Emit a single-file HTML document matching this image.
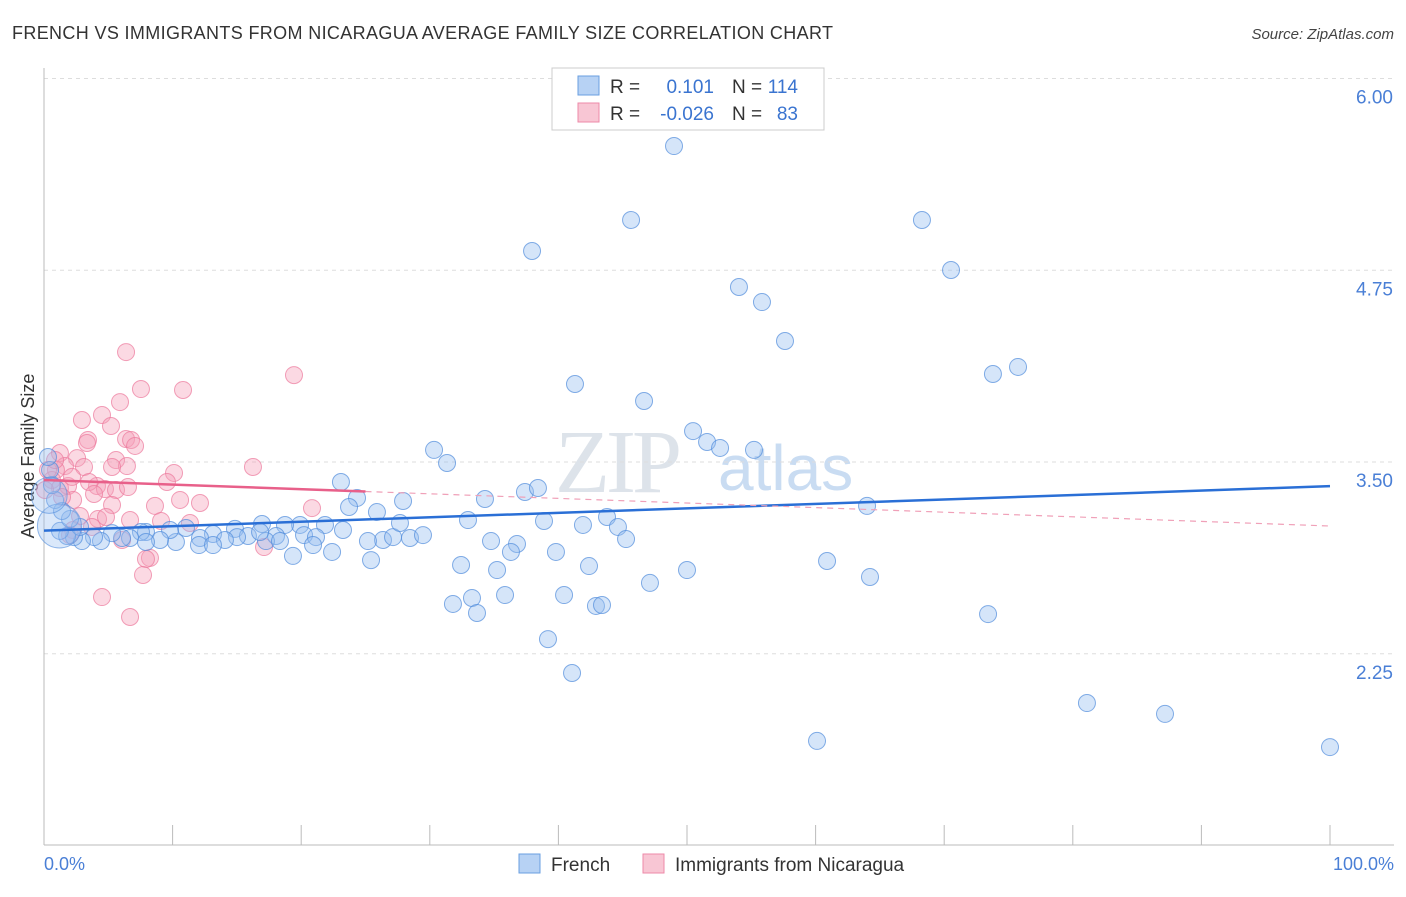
<!DOCTYPE html>
<html><head><meta charset="utf-8"><style>
body{margin:0;background:#fff;font-family:"Liberation Sans",sans-serif}
</style></head><body>
<svg id="chart" width="1406" height="892" xmlns="http://www.w3.org/2000/svg" font-family="Liberation Sans, sans-serif">
<text x="12" y="39" font-size="18" fill="#333" textLength="821">FRENCH VS IMMIGRANTS FROM NICARAGUA AVERAGE FAMILY SIZE CORRELATION CHART</text>
<text x="1394" y="39" font-size="15" fill="#444" text-anchor="end" font-style="italic">Source: ZipAtlas.com</text>
<text x="555" y="492" font-size="90" fill="#dde3ea" font-family="Liberation Serif, serif" letter-spacing="-4">ZIP</text>
<text x="718" y="490" font-size="64" fill="#c9dcf2">atlas</text>
<g id="grid"></g>
<line x1="44" y1="68" x2="44" y2="845" stroke="#bbb"/>
<line x1="44" y1="845" x2="1394" y2="845" stroke="#bbb"/>
<text transform="translate(34,456) rotate(-90)" font-size="18" fill="#333" text-anchor="middle">Average Family Size</text>
<text x="44" y="870" font-size="18" fill="#4a7fd6">0.0%</text>
<text x="1394" y="870" font-size="18" fill="#4a7fd6" text-anchor="end">100.0%</text>
<g id="pts"></g>
<g id="lines"></g>
<g>
<rect x="552" y="68" width="272" height="62" fill="#fff" stroke="#ccc"/>
<rect x="578" y="76" width="21" height="19" fill="#b7d2f4" stroke="#6a9fe0"/>
<rect x="578" y="103" width="21" height="19" fill="#f8c6d4" stroke="#ee8aa8"/>
<text x="610" y="93" font-size="19" fill="#333">R =</text><text x="714" y="93" font-size="19" fill="#3a74d0" text-anchor="end">0.101</text>
<text x="732" y="93" font-size="19" fill="#333">N =</text><text x="798" y="93" font-size="19" fill="#3a74d0" text-anchor="end">114</text>
<text x="610" y="120" font-size="19" fill="#333">R =</text><text x="714" y="120" font-size="19" fill="#3a74d0" text-anchor="end">-0.026</text>
<text x="732" y="120" font-size="19" fill="#333">N =</text><text x="798" y="120" font-size="19" fill="#3a74d0" text-anchor="end">83</text>
</g>
<rect x="519" y="854" width="21" height="19" fill="#b7d2f4" stroke="#6a9fe0"/>
<text x="551" y="871" font-size="19" fill="#333">French</text>
<rect x="643" y="854" width="21" height="19" fill="#f8c6d4" stroke="#ee8aa8"/>
<text x="675" y="871" font-size="19" fill="#333">Immigrants from Nicaragua</text>
</svg>
<script>
const yTicks=[2.25,3.5,4.75,6.0];
const yTickLabels=["2.25","3.50","4.75","6.00"];
const xTicks=[0,10,20,30,40,50,60,70,80,90,100];
const bluePx=[[674,146],[631,220],[922,220],[532,251],[951,270],[739,287],[762,302],[785,341],[1018,367],[993,374],[575,384],[644,401],[434,450],[693,431],[707,442],[720,448],[754,450],[447,463],[341,482],[525,492],[538,488],[485,499],[403,501],[357,498],[349,507],[377,512],[468,520],[544,521],[607,517],[583,525],[618,527],[867,506],[626,539],[491,541],[517,544],[511,552],[556,552],[410,538],[383,540],[393,537],[368,541],[325,525],[343,530],[300,525],[304,535],[285,525],[262,524],[276,536],[266,541],[235,529],[248,536],[237,537],[213,534],[225,540],[200,538],[186,528],[176,542],[170,530],[160,540],[146,532],[141,532],[130,538],[122,538],[112,533],[101,541],[94,537],[82,541],[74,537],[67,536],[60,531],[80,527],[70,519],[62,511],[55,500],[52,485],[50,470],[48,457],[260,532],[316,537],[332,552],[313,545],[293,556],[371,560],[461,565],[497,570],[589,566],[687,570],[827,561],[870,577],[650,583],[453,604],[472,598],[477,613],[505,595],[564,595],[596,606],[602,605],[548,639],[988,614],[572,673],[1087,703],[1165,714],[817,741],[1330,747],[423,535],[400,523],[280,541],[199,545],[213,545],[146,542]];
const pinkPx=[[126,352],[294,375],[141,389],[183,390],[120,402],[102,415],[82,420],[111,426],[88,440],[126,439],[131,440],[135,446],[87,443],[60,453],[77,458],[116,460],[253,467],[174,473],[127,466],[112,467],[84,467],[65,466],[56,470],[52,480],[60,488],[68,486],[72,477],[97,486],[89,482],[105,489],[116,490],[128,487],[167,482],[180,500],[200,503],[155,506],[112,505],[94,494],[73,500],[62,497],[80,516],[98,519],[106,517],[161,521],[190,523],[130,520],[92,527],[73,530],[70,535],[122,540],[264,547],[150,558],[146,559],[143,575],[102,597],[130,617],[312,508],[48,470],[55,460],[45,490]];
const blueX=bluePx.map(p=>+((p[0]-44)/12.86).toFixed(2));
const blueY=bluePx.map(p=>+(3.5-(p[1]-480)/153.4).toFixed(3));
const pinkX=pinkPx.map(p=>+((p[0]-44)/12.86).toFixed(2));
const pinkY=pinkPx.map(p=>+(3.5-(p[1]-480)/153.4).toFixed(3));
const blueTrend=[3.17,3.46];
const pinkTrend=[3.5,3.2];
const sx=v=>44+v*12.86;
const sy=v=>480-(v-3.5)*153.4;
const NS="http://www.w3.org/2000/svg";
function mk(t,a,parent){const e=document.createElementNS(NS,t);for(const k in a)e.setAttribute(k,a[k]);parent.appendChild(e);return e;}
const grid=document.getElementById('grid');
yTicks.forEach((t,i)=>{
  const l=mk('line',{x1:44,x2:1394,y1:sy(t)-18,y2:sy(t)-18,stroke:'#ddd','stroke-dasharray':'4,4'},grid);
  
  
  const tx=mk('text',{x:1393,y:sy(t)+7,'font-size':19,fill:'#4a7fd6','text-anchor':'end'},grid);
  tx.textContent=yTickLabels[i];
  
  
});
xTicks.forEach(t=>{
  const l=mk('line',{x1:sx(t),x2:sx(t),y1:825,y2:845,stroke:'#bbb'},grid);
  
  
});
const pts=document.getElementById('pts');
pinkX.forEach((x,i)=>{
  const c=mk('circle',{cx:sx(x),cy:sy(pinkY[i]),r:8.5,fill:'rgba(244,160,186,0.4)',stroke:'rgba(236,120,155,0.7)','stroke-width':1},pts);
  
  
});
blueX.forEach((x,i)=>{
  const c=mk('circle',{cx:sx(x),cy:sy(blueY[i]),r:8.5,fill:'rgba(150,190,240,0.4)',stroke:'rgba(80,140,220,0.7)','stroke-width':1},pts);
  
  
});
[[sx(1.2),sy(3.2),22],[sx(0.4),sy(3.4),18]].forEach(b=>{
  const c=mk('circle',{cx:b[0],cy:b[1],r:b[2],fill:'rgba(150,190,240,0.35)',stroke:'rgba(80,140,220,0.6)'},pts);
  
  
});
const lines=document.getElementById('lines');
const bl=mk('line',{x1:sx(0),y1:sy(blueTrend[0]),x2:sx(100),y2:sy(blueTrend[1]),stroke:'#2a6fd6','stroke-width':2.5},lines);


const pe=v=>pinkTrend[0]+(pinkTrend[1]-pinkTrend[0])*v/100;
const pl=mk('line',{x1:sx(0),y1:sy(pe(0)),x2:sx(25),y2:sy(pe(25)),stroke:'#e8608a','stroke-width':2.5},lines);


const pd=mk('line',{x1:sx(25),y1:sy(pe(25)),x2:sx(100),y2:sy(pe(100)),stroke:'#f0a0b8','stroke-width':1.2,'stroke-dasharray':'6,5'},lines);


</script>
</body></html>
